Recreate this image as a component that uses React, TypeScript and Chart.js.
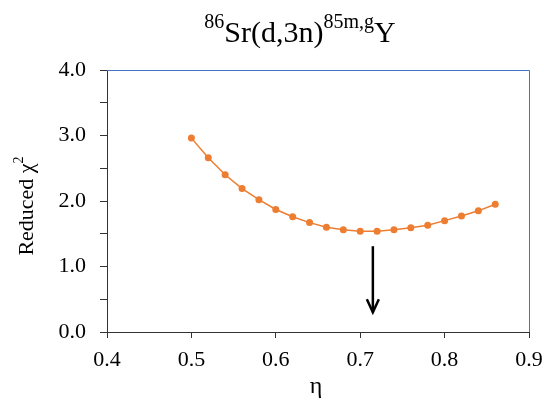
import React, { useEffect, useRef } from "react";
import { Chart, registerables } from "chart.js";

Chart.register(...registerables);

// Fraction η and reduced chi-square for the 86Sr(d,3n)85m,gY fit
const etaValues = [0.5, 0.52, 0.54, 0.56, 0.58, 0.6, 0.62, 0.64, 0.66, 0.68, 0.7, 0.72, 0.74, 0.76, 0.78, 0.8, 0.82, 0.84, 0.86];
const chiValues = [2.96, 2.66, 2.4, 2.19, 2.02, 1.87, 1.76, 1.67, 1.6, 1.56, 1.54, 1.54, 1.56, 1.59, 1.63, 1.7, 1.77, 1.85, 1.95];

// Minimum marker: vertical arrow at η ≈ 0.715
const arrowEta = 0.715;
const arrowTop = 1.31;
const arrowTip = 0.3;

const xTicks = [0.4, 0.5, 0.6, 0.7, 0.8, 0.9];
const yTickLabels = ["0.0", "1.0", "2.0", "3.0", "4.0"];

const SERIF = "'Liberation Serif', 'Times New Roman', serif";
const ORANGE = "#ED7D31";
const FRAME_BLUE = "#4472C4";

// Draws text runs where some parts are superscripts
function drawRuns(
  ctx: CanvasRenderingContext2D,
  runs: { t: string; sup?: boolean }[],
  x: number,
  y: number,
  size: number,
  supSize: number,
  raise: number,
  align: "center" | "left"
) {
  let total = 0;
  const widths = runs.map((r) => {
    ctx.font = `${r.sup ? supSize : size}px ${SERIF}`;
    const w = ctx.measureText(r.t).width;
    total += w;
    return w;
  });
  let cx = align === "center" ? x - total / 2 : x;
  ctx.textAlign = "left";
  runs.forEach((r, i) => {
    ctx.font = `${r.sup ? supSize : size}px ${SERIF}`;
    ctx.fillText(r.t, cx, r.sup ? y - raise : y);
    cx += widths[i];
  });
  return total;
}

const decorPlugin = {
  id: "decor",
  afterDraw(chart: any) {
    const { ctx, chartArea, scales } = chart;
    const { left, right, top, bottom } = chartArea;
    ctx.save();

    // top and right frame lines
    ctx.strokeStyle = FRAME_BLUE;
    ctx.lineWidth = 1;
    ctx.beginPath();
    ctx.moveTo(left, top + 0.5);
    ctx.lineTo(right + 0.5, top + 0.5);
    ctx.lineTo(right + 0.5, bottom);
    ctx.stroke();

    // arrow marking the minimum
    const ax = scales.x.getPixelForValue(arrowEta);
    const ay0 = scales.y.getPixelForValue(arrowTop);
    const ay1 = scales.y.getPixelForValue(arrowTip);
    ctx.strokeStyle = "#000";
    ctx.lineWidth = 2.5;
    ctx.lineCap = "butt";
    ctx.beginPath();
    ctx.moveTo(ax, ay0);
    ctx.lineTo(ax, ay1);
    ctx.stroke();
    ctx.lineJoin = "miter";
    ctx.beginPath();
    ctx.moveTo(ax - 6, ay1 - 13);
    ctx.lineTo(ax, ay1);
    ctx.lineTo(ax + 6, ay1 - 13);
    ctx.stroke();

    // chart title
    ctx.fillStyle = "#000";
    ctx.textBaseline = "alphabetic";
    drawRuns(
      ctx,
      [
        { t: "86", sup: true },
        { t: "Sr(d,3n)" },
        { t: "85m,g", sup: true },
        { t: "Y" },
      ],
      300,
      42,
      30,
      20,
      14,
      "center"
    );

    // x axis title
    ctx.font = `24px ${SERIF}`;
    ctx.textAlign = "center";
    ctx.fillText("η", 316, 393);

    // y axis title
    ctx.translate(33, 206);
    ctx.rotate(-Math.PI / 2);
    ctx.font = `22px ${SERIF}`;
    const w1 = ctx.measureText("Reduced χ").width;
    ctx.font = `14px ${SERIF}`;
    const w2 = ctx.measureText("2").width;
    drawRuns(ctx, [{ t: "Reduced χ" }, { t: "2", sup: true }], -(w1 + w2) / 2, 0, 22, 14, 10, "left");

    ctx.restore();
  },
};

export default function App() {
  const canvasRef = useRef<HTMLCanvasElement | null>(null);

  useEffect(() => {
    if (!canvasRef.current) return;
    const chart = new Chart(canvasRef.current, {
      type: "line",
      data: {
        datasets: [
          {
            data: etaValues.map((x, i) => ({ x, y: chiValues[i] })),
            borderColor: ORANGE,
            backgroundColor: ORANGE,
            borderWidth: 1.5,
            pointRadius: 3.5,
            pointBorderWidth: 0,
            tension: 0,
          },
        ],
      },
      options: {
        animation: false,
        responsive: false,
        layout: { padding: { top: 70, right: 15, left: 0, bottom: 0 } },
        plugins: { legend: { display: false }, title: { display: false }, tooltip: { enabled: false } },
        scales: {
          x: {
            type: "linear",
            min: 0.4,
            max: 0.9,
            afterFit: (s: any) => {
              s.height = 68;
              s.paddingLeft = 0;
              s.paddingRight = 0;
            },
            afterBuildTicks: (s: any) => {
              s.ticks = xTicks.map((v) => ({ value: v }));
            },
            ticks: {
              font: { family: SERIF, size: 22 },
              color: "#000",
              padding: 9,
              maxRotation: 0,
              callback: (v: any) => Number(v).toFixed(1),
            },
            grid: { drawOnChartArea: false, tickLength: 6, tickColor: "#333" },
            border: { color: "#333", width: 1 },
          },
          y: {
            type: "linear",
            min: 0,
            max: 4,
            afterFit: (s: any) => {
              s.width = 107;
              s.paddingTop = 0;
              s.paddingBottom = 0;
            },
            ticks: {
              stepSize: 0.5,
              font: { family: SERIF, size: 22 },
              color: "#000",
              padding: 14,
              callback: (v: any) => {
                const n = Number(v);
                return Number.isInteger(n) ? yTickLabels[n] : "";
              },
            },
            grid: { drawOnChartArea: false, tickLength: 7, tickColor: "#333" },
            border: { color: "#333", width: 1 },
          },
        },
      },
      plugins: [decorPlugin],
    } as any);
    return () => chart.destroy();
  }, []);

  return (
    <div style={{ position: "absolute", left: 0, top: 0, width: 544, height: 400, background: "#fff" }}>
      <canvas ref={canvasRef} width={544} height={400} />
    </div>
  );
}
